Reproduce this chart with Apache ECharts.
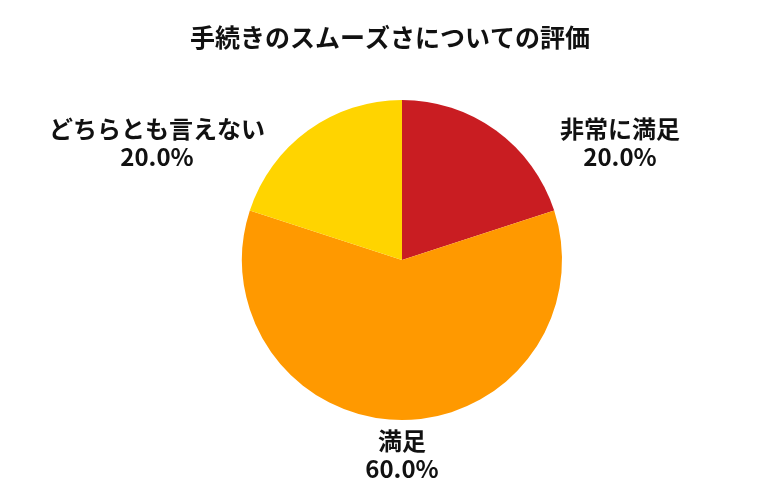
<!DOCTYPE html>
<html lang="ja">
<head>
<meta charset="UTF-8">
<script src="https://cdn.jsdelivr.net/npm/echarts@6/dist/echarts.min.js"></script>
<style>html,body{margin:0;background:#fff}#c{width:780px;height:500px}</style>
</head>
<body>
<div id="c"></div>
<script>
const categories = ['非常に満足', '満足', 'どちらとも言えない']
const values = [20, 60, 20]
const colors = ['#C91D22', '#FF9900', '#FFD400']
// label centre positions (layout only)
const labelPos = [[620, 143], [402, 455], [157, 143]]

const chart = echarts.init(document.getElementById('c'))
chart.setOption({
    textStyle: { fontFamily: 'Noto Sans CJK JP' },
    title: {
        text: '手続きのスムーズさについての評価',
        left: 'center', top: 20,
        textStyle: { fontSize: 25, fontWeight: 'bold', color: '#111', fontFamily: 'Noto Sans CJK JP' }
    },
    series: [{
        type: 'pie',
        center: [402, 260],
        radius: 160,
        startAngle: 90,
        data: categories.map((c, i) => ({ name: c, value: values[i], itemStyle: { color: colors[i] } })),
        label: {
            position: 'outside',
            formatter: p => p.name + '\n' + p.percent.toFixed(1) + '%',
            fontSize: 24, fontWeight: 'bold', color: '#111', lineHeight: 28,
            fontFamily: 'Noto Sans CJK JP'
        },
        labelLine: { show: false },
        labelLayout: p => ({
            x: labelPos[p.dataIndex][0], y: labelPos[p.dataIndex][1],
            align: 'center', verticalAlign: 'middle'
        })
    }]
})
</script>
</body>
</html>
